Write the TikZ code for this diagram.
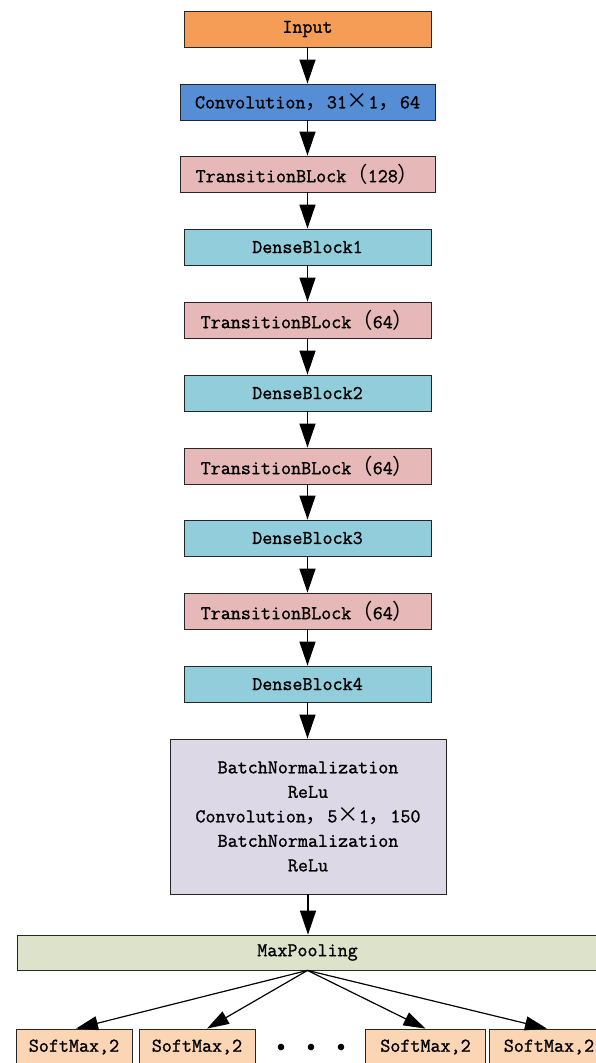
\documentclass[tikz,border=0pt]{standalone}
\usepackage{fontspec}
\newfontfamily\boxfont[FakeBold=1.2]{Latin Modern Mono}
\newfontfamily\cjk[Scale=1.1]{Noto Sans CJK SC}
\usetikzlibrary{arrows.meta}
\definecolor{cinput}{HTML}{F59D56}
\definecolor{cconv}{HTML}{558ED5}
\definecolor{ctrans}{HTML}{E6B9B8}
\definecolor{cdense}{HTML}{92CDDC}
\definecolor{cbn}{HTML}{DDD8E6}
\definecolor{cpool}{HTML}{DDE2CB}
\definecolor{csoft}{HTML}{FCD5B5}
\tikzset{
  box/.style={draw=black!85, line width=0.8pt, minimum height=36pt, inner sep=0pt,
    font=\boxfont\fontsize{19.5}{24.5}\selectfont},
  narrow/.style={box, minimum width=247pt},
  wide/.style={box, minimum width=255pt},
  arr/.style={line width=1.3pt, -{Triangle[length=24pt,width=16pt]}},
  arrs/.style={line width=1.2pt, -{Triangle[length=22pt,width=14pt]}},
}
\begin{document}
\begin{tikzpicture}[x=1pt,y=-1pt]
\useasboundingbox (0,0) rectangle (596,1063);
\node[narrow, fill=cinput] (in) at (307.5,29) {Input};
\node[wide, fill=cconv] (conv) at (307.5,102) {Convolution{\cjk ，}31{\cjk ×}1{\cjk ，}64};
\node[wide, fill=ctrans] (t1) at (307.5,174) {TransitionBLock{\cjk （}128{\cjk ）}};
\node[narrow, fill=cdense] (d1) at (307.5,247) {DenseBlock1};
\node[narrow, fill=ctrans] (t2) at (307.5,320) {TransitionBLock{\cjk （}64{\cjk ）}};
\node[narrow, fill=cdense] (d2) at (307.5,393) {DenseBlock2};
\node[narrow, fill=ctrans] (t3) at (307.5,466) {TransitionBLock{\cjk （}64{\cjk ）}};
\node[narrow, fill=cdense] (d3) at (307.5,538) {DenseBlock3};
\node[narrow, fill=ctrans] (t4) at (307.5,611) {TransitionBLock{\cjk （}64{\cjk ）}};
\node[narrow, fill=cdense] (d4) at (307.5,684) {DenseBlock4};
\node[box, fill=cbn, minimum width=276pt, minimum height=155pt, align=center] (bn) at (308,816.5)
  {BatchNormalization\\ReLu\\Convolution{\cjk ，}5{\cjk ×}1{\cjk ，}150\\BatchNormalization\\ReLu};
\node[box, fill=cpool, minimum width=581pt, minimum height=35pt] (mp) at (307.5,952.5) {MaxPooling};
\node[box, fill=csoft, minimum width=116pt] (s1) at (74,1047) {SoftMax,2};
\node[box, fill=csoft, minimum width=116pt] (s2) at (197,1047) {SoftMax,2};
\node[box, fill=csoft, minimum width=120pt] (s3) at (425.5,1047) {SoftMax,2};
\node[box, fill=csoft, minimum width=120pt] (s4) at (549,1047) {SoftMax,2};
\foreach \x in {281,311,341} \fill (\x,1047) circle (3.3pt);
\draw[arr] (in) -- (conv);
\draw[arr] (conv) -- (t1);
\draw[arr] (t1) -- (d1);
\draw[arr] (d1) -- (t2);
\draw[arr] (t2) -- (d2);
\draw[arr] (d2) -- (t3);
\draw[arr] (t3) -- (d3);
\draw[arr] (d3) -- (t4);
\draw[arr] (t4) -- (d4);
\draw[arr] (d4.south) -- (d4.south |- bn.north);
\draw[arr] (bn.south) -- (bn.south |- mp.north);
\coordinate (mpb) at (mp.south);
\draw[arrs] (mpb) -- ([xshift=2pt]s1.north);
\draw[arrs] (mpb) -- ([xshift=10pt]s2.north);
\draw[arrs] (mpb) -- (s3.north);
\draw[arrs] (mpb) -- ([xshift=-2pt]s4.north);
\end{tikzpicture}
\end{document}
